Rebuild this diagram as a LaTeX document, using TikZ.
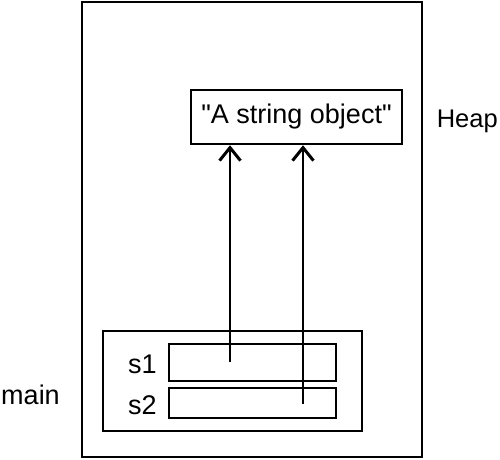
\documentclass[tikz,border=0pt]{standalone}
\usepackage{fontspec}
\setmainfont{Liberation Sans}[Ligatures=TeXOff]
\usetikzlibrary{arrows.meta,positioning,calc}

\begin{document}
\begin{tikzpicture}[x=1pt, y=-1pt, line width=2.5pt,
    box/.style={draw, inner sep=0pt, minimum width=#1},
    lbl/.style={font=\fontsize{27}{31}\selectfont},
    ptr/.style={-{Straight Barb[length=13pt,width=21pt,line width=3pt]}}]

% 전체 영역: 원본 이미지 좌표 (500 x 459)
\useasboundingbox (0,0) rectangle (500,459);

% 바깥 상자
\node[box=340pt, minimum height=455pt] (memory) at (252,229.5) {};

% Heap 객체
\node[box=211pt, minimum height=54pt, lbl] (strobj) at (296.5,117) {"A string object"};
\node[font=\fontsize{25.5}{30}\selectfont, anchor=base east, inner sep=0pt] (heaplbl) at (499,127) {Heap};

% main 프레임과 변수 칸
\node[box=259pt, minimum height=100pt] (mainframe) at (232.5,381) {};
\node[box=167pt, minimum height=37pt] (slot1) at (252.5,362.5) {};
\node[box=167pt, minimum height=30pt] (slot2) at (252.5,403) {};

\node[lbl, anchor=base east, inner sep=0pt] (s1lbl) at (158,373) {s1};
\node[lbl, anchor=base east, inner sep=0pt] (s2lbl) at (158,414) {s2};
\node[lbl, anchor=base west, inner sep=0pt] (mainlbl) at (0,404) {main};

% 참조 화살표
\coordinate (ref1) at (230,362);
\coordinate (ref2) at (303,404);
\draw[ptr] (ref1) -- (ref1 |- strobj.south);
\draw[ptr] (ref2) -- (ref2 |- strobj.south);

\end{tikzpicture}
\end{document}
